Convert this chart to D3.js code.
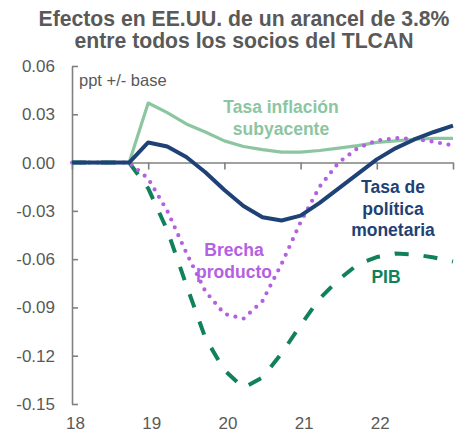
<!DOCTYPE html>
<html>
<head>
<meta charset="utf-8">
<script src="https://cdn.jsdelivr.net/npm/d3@7"></script>
<style>
  body { margin: 0; background: #fff; }
  svg text { font-family: "Liberation Sans", Arial, sans-serif; }
</style>
</head>
<body>
<svg class="chart" width="462" height="440"></svg>
<script>
// quarters, 18Q1 .. 23Q1
const quarters = [18, 18.25, 18.5, 18.75, 19, 19.25, 19.5, 19.75, 20, 20.25, 20.5, 20.75,
  21, 21.25, 21.5, 21.75, 22, 22.25, 22.5, 22.75, 23];

const inflacion = [0, 0, 0, 0, 0.037, 0.031, 0.024, 0.019, 0.0135, 0.010, 0.008, 0.0065,
  0.0065, 0.0075, 0.009, 0.0105, 0.0125, 0.0135, 0.0145, 0.015, 0.015];
const politica = [0, 0, 0, 0, 0.0125, 0.010, 0.0035, -0.006, -0.017, -0.027, -0.034, -0.036,
  -0.033, -0.025, -0.016, -0.007, 0.002, 0.009, 0.0145, 0.019, 0.023];
const brecha = [0, 0, 0, 0, -0.010, -0.030, -0.056, -0.080, -0.094, -0.097, -0.086, -0.063,
  -0.037, -0.015, 0.000, 0.009, 0.0137, 0.0152, 0.0146, 0.0129, 0.0106];
const pib = [0, 0, 0, 0, -0.016, -0.042, -0.076, -0.109, -0.129, -0.140, -0.1335, -0.1186,
  -0.101, -0.0845, -0.0727, -0.0633, -0.0587, -0.0565, -0.0571, -0.059, -0.0615];

const yTicks = [0.06, 0.03, 0, -0.03, -0.06, -0.09, -0.12, -0.15];
const xTicks = [18, 19, 20, 21, 22, 23];
const xLabels = [18, 19, 20, 21, 22];

const margin = { top: 66, left: 72 };
const width = 381;
const height = 338;

const svg = d3.select(".chart");

// title
svg.append("text")
  .attr("x", 244).attr("y", 26)
  .attr("text-anchor", "middle")
  .attr("font-size", 21.2).attr("font-weight", "bold").attr("fill", "#595959")
  .selectAll("tspan")
  .data(["Efectos en EE.UU. de un arancel de 3.8%", "entre todos los socios del TLCAN"])
  .join("tspan")
  .attr("x", 244)
  .attr("dy", (d, i) => (i ? 22 : 0))
  .text((d) => d);

const g = svg.append("g").attr("transform", `translate(${margin.left},${margin.top})`);

const x = d3.scaleLinear().domain([18, 23]).range([0, width]);
const y = d3.scaleLinear().domain([-0.15, 0.06]).range([height, 0]);

// y axis, ticks pointing inward
const yAxis = g.append("g")
  .call(d3.axisLeft(y).tickValues(yTicks).tickSize(-6).tickSizeOuter(0).tickPadding(17)
    .tickFormat((d) => d.toFixed(2)));
yAxis.selectAll("text").attr("font-size", 17).attr("fill", "#595959");

// x axis line at zero
const xAxis = g.append("g")
  .attr("transform", `translate(0,${y(0)})`)
  .call(d3.axisBottom(x).tickValues(xTicks).tickSize(7).tickSizeOuter(0).tickFormat(""));

[yAxis, xAxis].forEach((a) => {
  a.selectAll("path, line").attr("stroke", "#808080").attr("stroke-width", 1.6);
  a.selectAll("text").attr("font-family", null);
});

// year labels at the bottom
const labelAxis = g.append("g")
  .attr("transform", `translate(3,${height + 10})`)
  .call(d3.axisBottom(x).tickValues(xLabels).tickSize(0).tickFormat((d) => d));
labelAxis.select(".domain").remove();
labelAxis.selectAll("text").attr("font-size", 17).attr("fill", "#595959").attr("font-family", null);

g.append("text")
  .attr("x", 7).attr("y", 20)
  .attr("font-size", 16.5).attr("fill", "#595959")
  .text("ppt +/- base");

const series = [
  { values: inflacion, color: "#8cc6a1", width: 3.2, dash: null, cap: "butt" },
  { values: pib, color: "#108158", width: 4, dash: "14,15", cap: "butt" },
  { values: brecha, color: "#b460e2", width: 4.2, dash: "0,8.6", cap: "round" },
  { values: politica, color: "#1f4276", width: 4, dash: null, cap: "butt" },
];

const line = d3.line()
  .x((d, i) => x(quarters[i]))
  .y((d) => y(d));

series.forEach((s) => {
  g.append("path")
    .datum(s.values)
    .attr("d", line)
    .attr("fill", "none")
    .attr("stroke", s.color)
    .attr("stroke-width", s.width)
    .attr("stroke-linecap", s.cap)
    .attr("stroke-linejoin", "round")
    .attr("stroke-dasharray", s.dash);
});

// series labels
const labels = [
  { lines: ["Tasa inflación", "subyacente"], color: "#8cc6a1", x: 209, y: 47 },
  { lines: ["Tasa de", "política", "monetaria"], color: "#1f4276", x: 321, y: 127 },
  { lines: ["Brecha", "producto"], color: "#b460e2", x: 162, y: 190 },
  { lines: ["PIB"], color: "#108158", x: 314, y: 217 },
];

labels.forEach((l) => {
  g.append("text")
    .attr("text-anchor", "middle")
    .attr("font-size", 17.5).attr("font-weight", "bold").attr("fill", l.color)
    .selectAll("tspan")
    .data(l.lines)
    .join("tspan")
    .attr("x", l.x)
    .attr("y", (d, i) => l.y + i * 21.5)
    .text((d) => d);
});
</script>
</body>
</html>
